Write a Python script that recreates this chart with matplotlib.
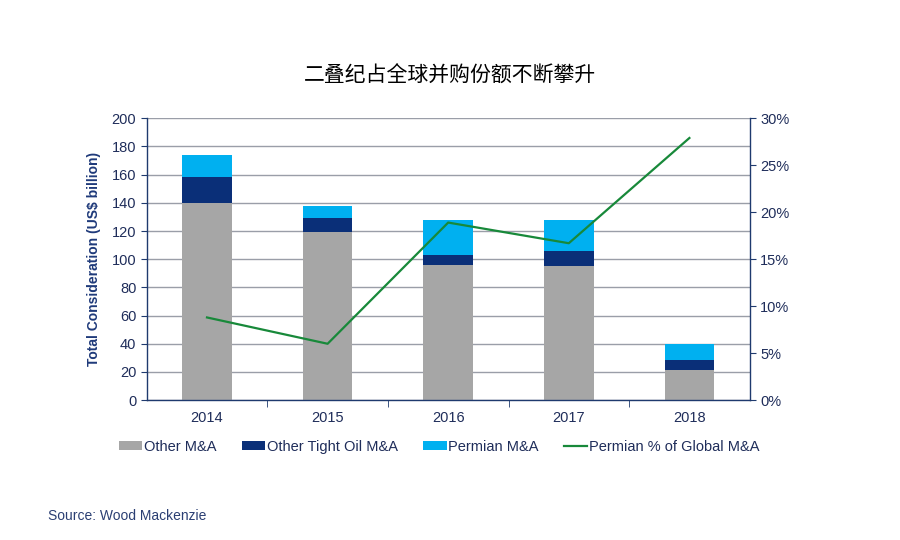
import matplotlib

matplotlib.use('Agg')
import matplotlib.pyplot as plt
import numpy as np

plt.rcParams['font.family'] = ['Liberation Sans', 'DejaVu Sans']

years = ['2014', '2015', '2016', '2017', '2018']
other_ma = [140, 119, 96, 95, 21.5]
tight_oil_ma = [18, 10, 7, 11, 7]
permian_ma = [16, 9, 25, 22, 11]
permian_pct = [8.8, 6.0, 18.9, 16.7, 27.9]

navy = '#1f3a6e'
text_col = '#1f2d5a'

fig = plt.figure(figsize=(9, 5.4), dpi=100)
ax = fig.add_axes([0.163, 0.259, 0.670, 0.522])

x = np.arange(len(years))
w = 0.41
b1 = ax.bar(x, other_ma, w, color='#a6a6a6', label='Other M&A', zorder=2)
b2 = ax.bar(x, tight_oil_ma, w, bottom=other_ma, color='#0a2f78',
            label='Other Tight Oil M&A', zorder=2)
bottom2 = np.array(other_ma) + np.array(tight_oil_ma)
b3 = ax.bar(x, permian_ma, w, bottom=bottom2, color='#00b0f0',
            label='Permian M&A', zorder=2)

ax.set_xlim(-0.5, len(years) - 0.5)
ax.set_ylim(0, 200)
ax.set_yticks(np.arange(0, 201, 20))
ax.yaxis.grid(True, color='#9a9ea8', linewidth=1.0, zorder=0)
ax.set_axisbelow(True)

ax.set_xticks(x)
ax.set_xticklabels(years)
ax.set_xticks(np.arange(0.5, len(years) - 0.5, 1), minor=True)
ax.tick_params(axis='x', which='major', length=0, pad=8, labelsize=10.5, labelcolor=text_col)
ax.tick_params(axis='x', which='minor', length=5, direction='out', color=navy)
ax.tick_params(axis='y', length=4, direction='out', color=navy, labelsize=10.5,
               labelcolor=text_col)

for s in ['top', 'right']:
    ax.spines[s].set_visible(False)
for s in ['left', 'bottom']:
    ax.spines[s].set_color(navy)
    ax.spines[s].set_linewidth(1.0)

ax.set_ylabel('Total Consideration (US$ billion)', fontsize=10, fontweight='bold',
              color='#1f3a7a', labelpad=8)

ax2 = ax.twinx()
line, = ax2.plot(x, permian_pct, color='#18893a', linewidth=1.6,
                 label='Permian % of Global M&A', zorder=3)
ax2.set_ylim(0, 30)
ax2.set_yticks(np.arange(0, 31, 5))
ax2.set_yticklabels([f'{v}%' for v in range(0, 31, 5)])
ax2.tick_params(axis='y', length=4, direction='out', color=navy, labelsize=10.5,
                labelcolor=text_col)
for s in ['top', 'left', 'bottom']:
    ax2.spines[s].set_visible(False)
ax2.spines['right'].set_color(navy)
ax2.spines['right'].set_linewidth(1.0)

fig.text(0.5, 0.86, '二叠纪占全球并购份额不断攀升', ha='center', va='center',
         fontsize=15, family=['Noto Sans CJK SC', 'DejaVu Sans'], color='black')

leg = fig.legend([b1, b2, b3, line],
                 ['Other M&A', 'Other Tight Oil M&A', 'Permian M&A', 'Permian % of Global M&A'],
                 loc='center', bbox_to_anchor=(0.488, 0.173), ncol=4, frameon=False,
                 fontsize=10.5, handlelength=1.6, handleheight=0.5, handletextpad=0.1,
                 columnspacing=1.75)
for t in leg.get_texts():
    t.set_color(text_col)

fig.text(0.053, 0.044, 'Source: Wood Mackenzie', fontsize=10, color='#2b3f73',
         ha='left', va='center')

fig.savefig('out.png', dpi=100)
